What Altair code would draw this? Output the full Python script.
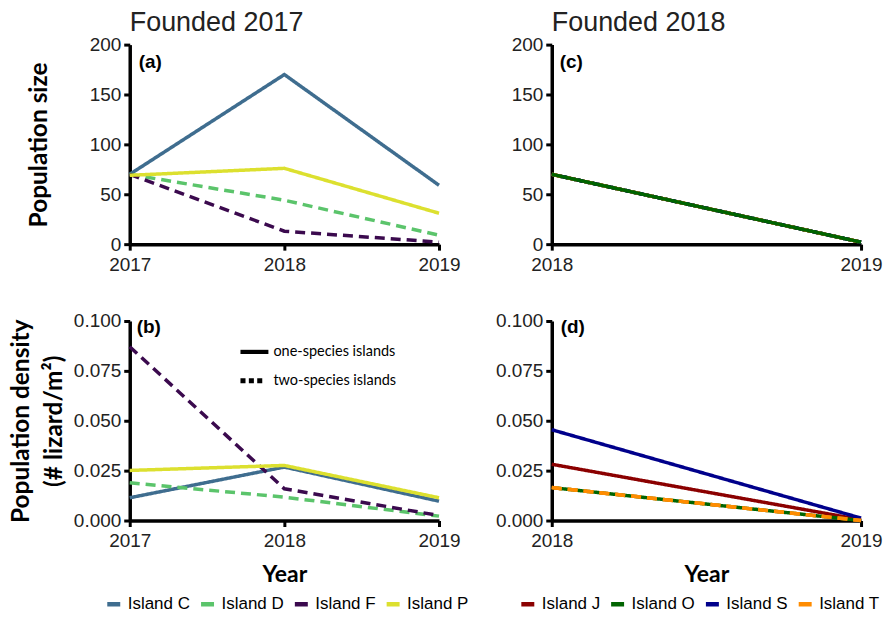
import altair as alt
import pandas as pd

# ---------------- data ----------------
years_2017 = [2017, 2018, 2019]
years_2018 = [2018, 2019]

islands_2017 = ["Island C", "Island D", "Island F", "Island P"]
types_2017 = ["one-species islands", "two-species islands", "two-species islands", "one-species islands"]
colors_2017 = ["#3F6D8F", "#5BC46B", "#3B0A4E", "#DCE02F"]
size_C = [70, 170, 59]
size_D = [70, 44, 9]
size_F = [70, 13, 2]
size_P = [69, 76, 31]
dens_C = [0.0114, 0.0268, 0.0097]
dens_D = [0.0189, 0.0117, 0.0022]
dens_F = [0.0871, 0.0159, 0.0025]
dens_P = [0.0251, 0.0276, 0.0114]

islands_2018 = ["Island J", "Island O", "Island S", "Island T"]
types_2018 = ["one-species islands", "one-species islands", "one-species islands", "two-species islands"]
colors_2018 = ["#8B0000", "#006400", "#00008B", "#FF8C00"]
size_J = [70, 2]
size_O = [70, 2]
size_S = [70, 2]
size_T = [70, 2]
dens_J = [0.0282, 0.0004]
dens_O = [0.0165, 0.0]
dens_S = [0.0455, 0.0012]
dens_T = [0.0165, 0.0]

dash_types = ["one-species islands", "two-species islands"]


def table(years, islands, types, series):
    rows = []
    for isl, typ, vals in zip(islands, types, series):
        for yr, v in zip(years, vals):
            rows.append({"Year": yr, "Island": isl, "Type": typ, "Value": v})
    return pd.DataFrame(rows)


df_a = table(years_2017, islands_2017, types_2017, [size_C, size_D, size_F, size_P])
df_b = table(years_2017, islands_2017, types_2017, [dens_C, dens_D, dens_F, dens_P])
df_c = table(years_2018, islands_2018, types_2018, [size_J, size_O, size_S, size_T])
df_d = table(years_2018, islands_2018, types_2018, [dens_J, dens_O, dens_S, dens_T])

W, H = 310, 200
LABEL_FONT = "Liberation Sans"
TITLE_FONT = "Lato"

# legend glyphs for the line-type key (solid bar / three dots)
SOLID_PATH = "M-1,-0.15H1V0.15H-1Z"
DOTS_PATH = ("M-1,-0.18H-0.64V0.18H-1Z M-0.4,-0.18H-0.04V0.18H-0.4Z "
             "M0.2,-0.18H0.56V0.18H0.2Z")


def color_scale(islands, colors):
    return alt.Scale(domain=islands, range=colors)


dash_scale = alt.Scale(domain=dash_types, range=[[1, 0], [10, 6]])


def xaxis(title=None):
    kw = dict(labelAngle=0, labelFontSize=19, labelPadding=5, labelOverlap=False)
    if title:
        kw.update(title=title, titlePadding=13, titleFontSize=23)
    else:
        kw.update(title=None)
    return alt.Axis(**kw)


def panel(df, years, islands, colors, ydomain, yvalues, yfmt, ytitle,
          ytitle_pad, letter, lx, ly, xtitle=None, color_legend=None,
          type_legend=None, top_layer=None):
    x = alt.X("Year:O", scale=alt.Scale(type="point", domain=years, padding=0),
              axis=xaxis(xtitle))
    y_axis_kw = dict(values=yvalues, format=yfmt, labelFontSize=19, labelPadding=3,
                     labelOverlap=False)
    if ytitle is not None:
        y_axis_kw.update(title=ytitle, titlePadding=ytitle_pad, titleLineHeight=33,
                         titleFontSize=24.5)
    else:
        y_axis_kw.update(title=None)
    y = alt.Y("Value:Q", scale=alt.Scale(domain=ydomain, nice=False),
              axis=alt.Axis(**y_axis_kw))
    base = alt.Chart(df)
    layers = []
    if type_legend is not None:
        # key for the line types: the marks themselves are pushed out of the
        # clipped plot area, only their legend is shown
        layers.append(
            base.mark_point(filled=True, color="black", yOffset=-3000, clip=True).encode(
                x=x, y=y,
                shape=alt.Shape("Type:N",
                                scale=alt.Scale(domain=dash_types,
                                                range=[SOLID_PATH, DOTS_PATH]),
                                legend=type_legend),
            )
        )
    lines = base.mark_line(strokeWidth=3.5).encode(
        x=x, y=y,
        color=alt.Color("Island:N", scale=color_scale(islands, colors),
                        legend=color_legend),
        strokeDash=alt.StrokeDash("Type:N", scale=dash_scale, legend=None),
        detail="Island:N",
    )
    layers.append(lines)
    if top_layer is not None:
        layers.append(
            base.transform_filter(alt.FieldOneOfPredicate(field="Island", oneOf=top_layer))
            .mark_line(strokeWidth=3.5).encode(
                x=x, y=y,
                color=alt.Color("Island:N", scale=color_scale(islands, colors), legend=None),
                strokeDash=alt.StrokeDash("Type:N", scale=dash_scale, legend=None),
            )
        )
    label = alt.Chart(pd.DataFrame({"t": [letter]})).mark_text(
        font="Liberation Sans", fontWeight="bold", fontSize=19, align="left",
        baseline="middle", color="black"
    ).encode(text="t:N", x=alt.value(lx), y=alt.value(ly))
    layers.append(label)
    return alt.layer(*layers).properties(width=W, height=H)


def island_legend(x, y):
    return alt.Legend(
        title=None, orient="none", legendX=x, legendY=y, direction="horizontal",
        symbolType="stroke", symbolSize=169, symbolStrokeWidth=4.5,
        labelFont=LABEL_FONT, labelFontSize=17, labelColor="black",
        columnPadding=1, labelOffset=5, symbolDash=[1, 0], padding=0,
    )


type_legend = alt.Legend(
    title=None, orient="none", legendX=111, legendY=17, direction="vertical",
    symbolSize=784, symbolStrokeWidth=0, symbolFillColor="black",
    symbolOpacity=1, labelFont=TITLE_FONT, labelFontSize=14.5,
    labelColor="black", rowPadding=8, labelOffset=5, padding=0,
)


def founded(text):
    return alt.TitleParams(text, anchor="start", frame="group", font=LABEL_FONT,
                           fontSize=27, fontWeight="normal", color="#222", offset=-1)


a = panel(df_a, years_2017, islands_2017, colors_2017, [0, 200], [0, 50, 100, 150, 200],
          "d", "Population size", 38, "(a)", 9, 17).properties(title=founded("Founded 2017"))
b = panel(df_b, years_2017, islands_2017, colors_2017, [0, 0.1],
          [0, 0.025, 0.05, 0.075, 0.1], ".3f",
          ["Population density", "(# lizard/m²)"], 7, "(b)", 7, 6, xtitle="Year",
          color_legend=island_legend(-25, 275), type_legend=type_legend)
c = panel(df_c, years_2018, islands_2018, colors_2018, [0, 200], [0, 50, 100, 150, 200],
          "d", None, 0, "(c)", 8, 17, top_layer=["Island O"]).properties(
    title=founded("Founded 2018"))
d = panel(df_d, years_2018, islands_2018, colors_2018, [0, 0.1],
          [0, 0.025, 0.05, 0.075, 0.1], ".3f", None, 0, "(d)", 9, 6, xtitle="Year",
          color_legend=island_legend(-33, 275), top_layer=["Island T"])

chart = alt.concat(
    a, c, b, d, columns=2, spacing={"row": 77, "column": 113}, bounds="flush"
).resolve_scale(
    color="independent", strokeDash="independent", shape="independent",
    x="independent", y="independent"
).configure(padding=0).configure_view(stroke=None).configure_axis(
    domainColor="black", domainWidth=3.5, tickColor="black", tickWidth=3,
    tickSize=6, labelFont=LABEL_FONT, labelColor="#222", grid=False,
    titleFont=TITLE_FONT, titleFontWeight="bold", titleColor="black",
).configure_legend(labelLimit=0)

chart.save("out.html", embed_options={"renderer": "svg", "actions": False})
